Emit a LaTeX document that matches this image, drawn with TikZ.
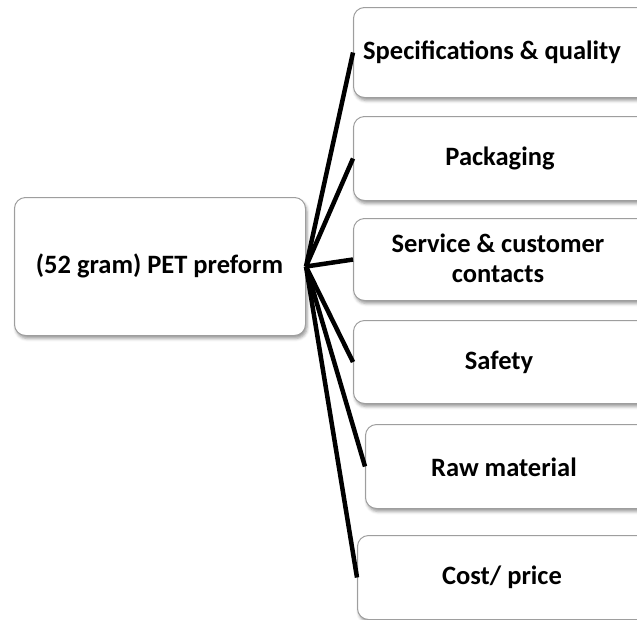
\documentclass[tikz,border=0pt]{standalone}
\usepackage{fontspec}
\setmainfont{Carlito}
\usetikzlibrary{shadows.blur}
\tikzset{
  card/.style={draw=black!38, line width=1pt, fill=white, rounded corners=11pt,
    blur shadow={shadow xshift=1.5pt, shadow yshift=-3pt, shadow blur radius=3pt, shadow opacity=40},
    anchor=north west, inner sep=0pt},
  caption/.style={align=center, inner sep=0pt,
    font=\fontsize{26.5pt}{30pt}\selectfont\bfseries},
  link/.style={line width=4.5pt, black}
}
\begin{document}
\begin{tikzpicture}[x=1pt, y=-1pt]
  \useasboundingbox (0,0) rectangle (637,619);
  \clip (0,0) rectangle (637,619);
  % central topic
  \node[card, minimum width=291pt, minimum height=138pt] (root) at (14,197) {};
  \node[caption] (rootT) at (159.5,266) {(52 gram) PET preform};
  % the six aspects on the right (their boxes run past the right edge)
  \node[card, minimum width=320pt, minimum height=90pt] (spec) at (353,7) {};
  \node[card, minimum width=320pt, minimum height=84pt] (pack) at (353,116) {};
  \node[card, minimum width=320pt, minimum height=82pt] (serv) at (353,218) {};
  \node[card, minimum width=320pt, minimum height=83pt] (safe) at (353,320) {};
  \node[card, minimum width=320pt, minimum height=84pt] (raw) at (365,424) {};
  \node[card, minimum width=320pt, minimum height=84pt] (cost) at (357,535) {};
  \node[caption] (specT) at (492,52) {Specifications \& quality};
  \node[caption] (packT) at (500,158) {Packaging};
  \node[caption] (servT) at (498,258) {Service \& customer\\contacts};
  \node[caption] (safeT) at (499,362) {Safety};
  \node[caption] (rawT) at (504,467) {Raw material};
  \node[caption] (costT) at (502,577) {Cost/ price};
  % connectors
  \foreach \t in {spec,pack,serv,safe,raw,cost}
    \draw[link] (root.east) -- (\t.west);
\end{tikzpicture}
\end{document}
